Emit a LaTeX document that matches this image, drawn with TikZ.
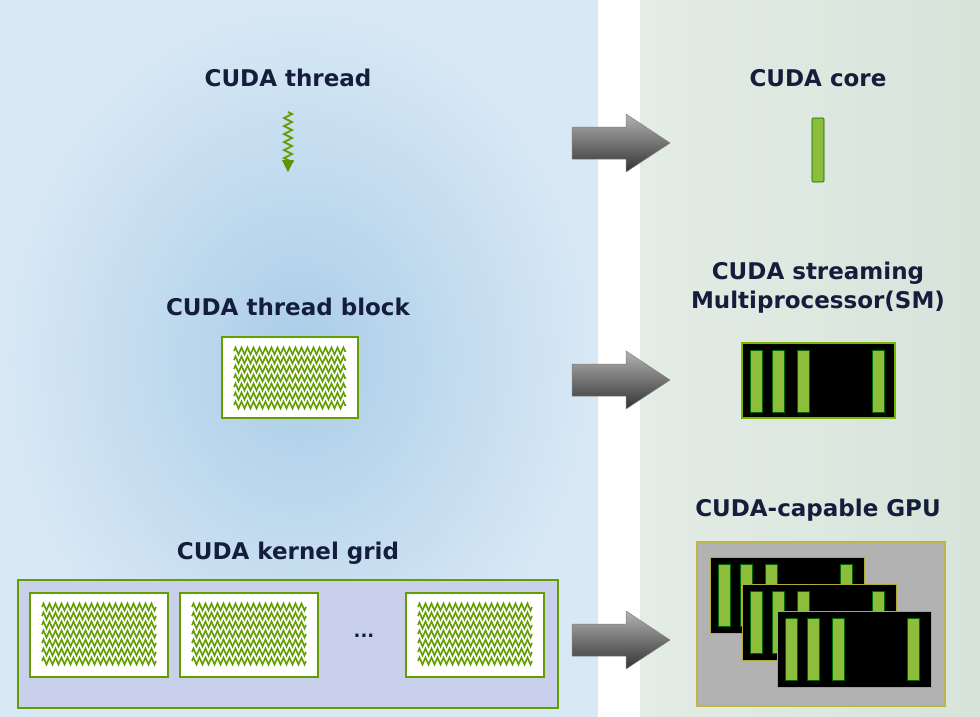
\documentclass[tikz,border=0pt]{standalone}
\usepackage{fontspec}
\setmainfont{DejaVu Sans}
\usetikzlibrary{decorations.pathmorphing}
\definecolor{nvgreen}{RGB}{118,185,0}
\definecolor{barg}{RGB}{140,190,60}
\definecolor{navy}{RGB}{20,30,60}
\definecolor{lblue}{RGB}{170,205,232}
\definecolor{lgreen}{RGB}{215,228,218}
\definecolor{lavender}{RGB}{200,208,236}
\tikzset{
  label/.style={text=navy,font=\bfseries\fontsize{23}{29}\selectfont,align=center},
  map/.style={shade,top color=gray!60,bottom color=black!80,draw=black!50,line width=0.5pt},
  bar/.style={fill=barg,draw=black!60!green,line width=0.6pt},
  card/.style={fill=black,draw=olive!70,line width=1pt},
  zig/.style={draw=nvgreen!85!black,line width=1.6pt,decorate,
    decoration={zigzag,segment length=6pt,amplitude=3.5pt}}
}
% rows of threads inside a block
\newcommand{\tblock}[4]{%
  \draw[fill=white,draw=nvgreen!85!black,line width=1.8pt] (#1,#2) rectangle (#3,#4);
  \foreach \r in {0,...,6}
    \draw[zig] (#1+12,#2+14+\r*9) -- (#3-12,#2+14+\r*9);}
% an SM card with four cores
\newcommand{\smcard}[2]{%
  \draw[card] (#1,#2) rectangle ++(154,76);
  \foreach \dx in {8,30,55,130}
    \draw[bar] (#1+\dx,#2+7) rectangle ++(12,62);}
% block arrow pointing right
\newcommand{\maparrow}[2]{%
  \draw[map] (572,#1-16) -- (626,#1-16) -- (626,#1-29) -- (670,#1) -- (626,#1+29)
    -- (626,#1+16) -- (572,#1+16) -- cycle;
  \coordinate (#2) at (620,#1);}
\begin{document}
\begin{tikzpicture}[x=1pt,y=-1pt]
\useasboundingbox (0,0) rectangle (980,716);
% panels
\shade[inner color=lblue,outer color=lblue!45] (0,0) rectangle (598,716);
\fill[white] (598,0) rectangle (640,716);
\shade[left color=lgreen!70!white,right color=lgreen] (640,0) rectangle (980,716);
% labels
\node[label] (thr) at (288,78) {CUDA thread};
\node[label] (core) at (818,78) {CUDA core};
\node[label] (blk) at (288,307) {CUDA thread block};
\node[label] (sm) at (818,288) {CUDA streaming\\Multiprocessor(SM)};
\node[label] (grd) at (288,553) {CUDA kernel grid};
\node[label] (gpu) at (818,510) {CUDA-capable GPU};
% thread
\draw[zig,line width=1.8pt,decoration={zigzag,segment length=8pt,amplitude=4pt}] (288,112) -- (288,166);
\fill[nvgreen!80!black] (282,160) -- (294,160) -- (288,172) -- cycle;
% core
\draw[bar,rounded corners=1pt] (812,118) rectangle (824,182);
% block
\tblock{222}{337}{358}{418}
% grid
\draw[fill=lavender,draw=nvgreen!85!black,line width=1.8pt] (18,580) rectangle (558,708);
\tblock{30}{593}{168}{677}
\tblock{180}{593}{318}{677}
\tblock{406}{593}{544}{677}
\node[font=\bfseries\fontsize{18}{20}\selectfont,text=navy] (dots) at (364,636) {...};
% SM
\draw[card,draw=nvgreen,line width=1.8pt] (742,343) rectangle (895,418);
\foreach \dx in {8,30,55,130}
  \draw[bar] (742+\dx,350) rectangle ++(12,62);
% GPU
\draw[fill=gray!60,draw=olive!60,line width=1.8pt] (697,542) rectangle (945,706);
\smcard{710}{557}
\smcard{742}{584}
\smcard{777}{611}
% mapping arrows
\maparrow{143}{a1}
\maparrow{380}{a2}
\maparrow{640}{a3}
\end{tikzpicture}
\end{document}
